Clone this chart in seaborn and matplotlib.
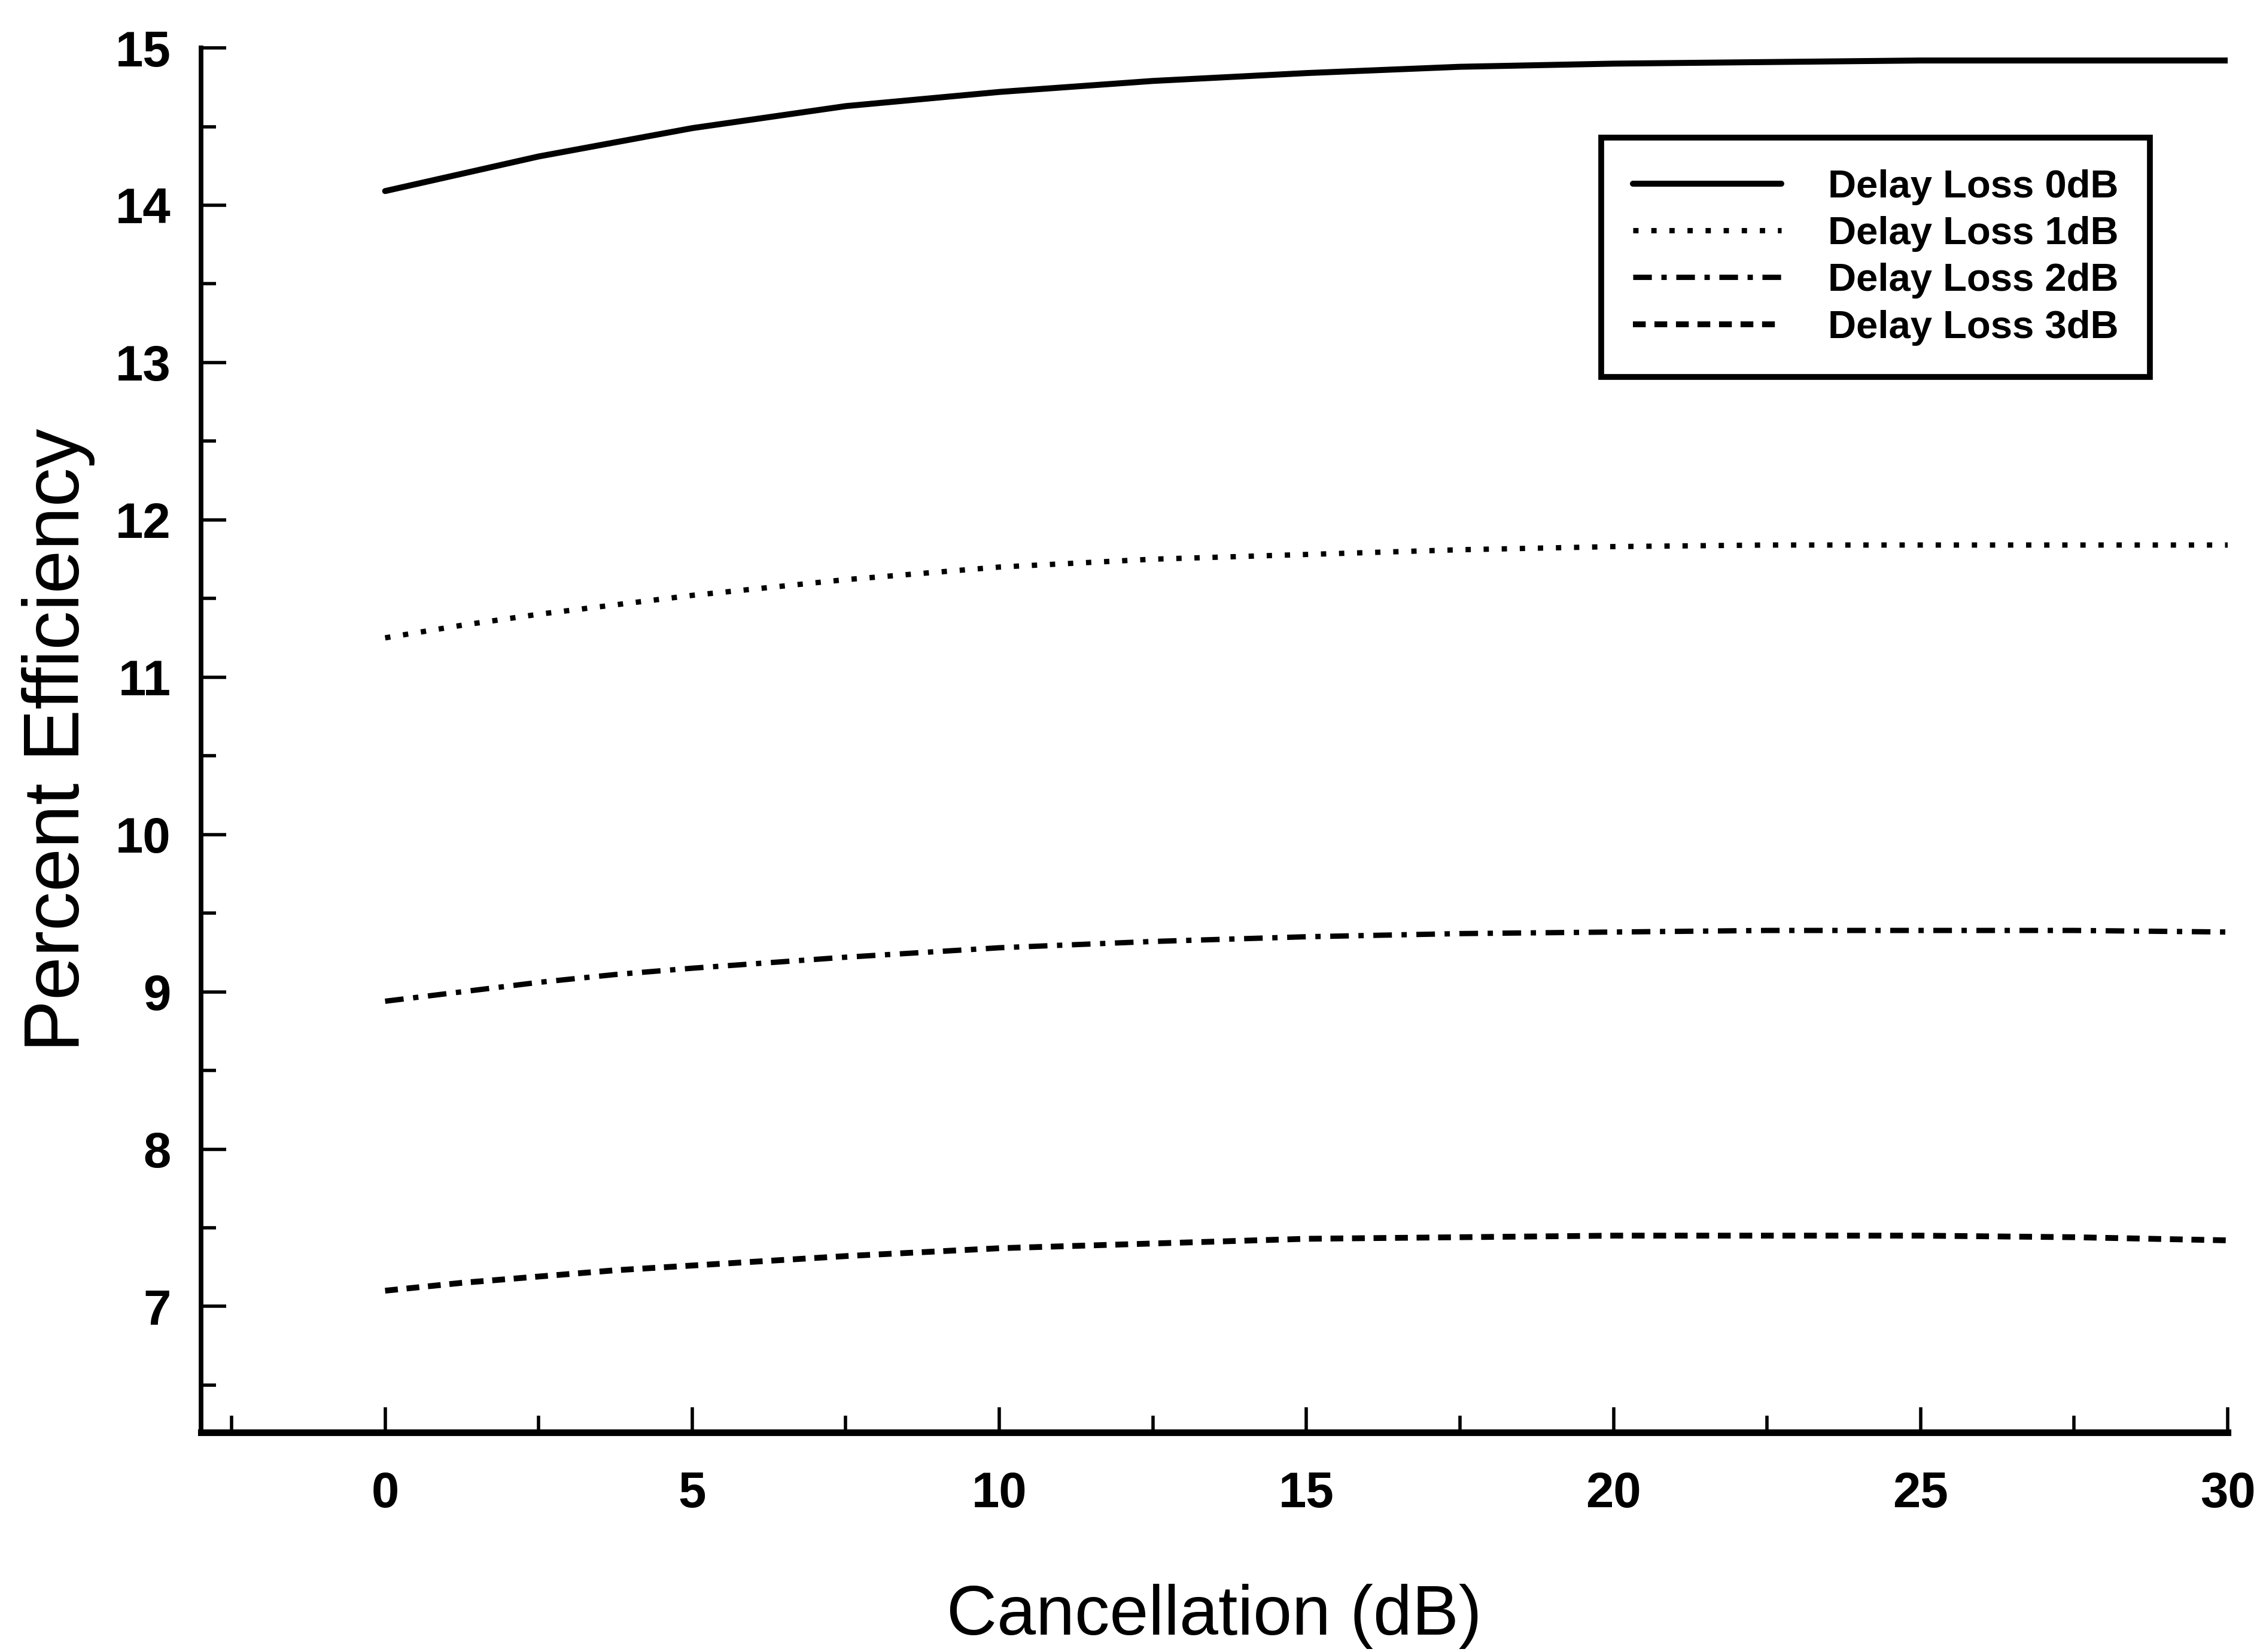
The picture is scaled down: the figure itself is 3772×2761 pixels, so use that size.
import pandas as pd
import matplotlib
matplotlib.use("Agg")
import matplotlib.pyplot as plt
from matplotlib.ticker import MultipleLocator
import seaborn as sns

# values
cancellation = [0, 1.25, 2.5, 3.75, 5, 7.5, 10, 12.5, 15, 17.5, 20, 22.5, 25, 27.5, 30]
loss_0db = [14.09, 14.20, 14.31, 14.40, 14.49, 14.63, 14.72, 14.79, 14.84, 14.88, 14.90, 14.91, 14.92, 14.92, 14.92]
loss_1db = [11.25, 11.33, 11.40, 11.46, 11.52, 11.62, 11.70, 11.75, 11.78, 11.81, 11.83, 11.84, 11.84, 11.84, 11.84]
loss_2db = [8.94, 9.00, 9.06, 9.11, 9.15, 9.22, 9.28, 9.32, 9.35, 9.37, 9.38, 9.39, 9.39, 9.39, 9.38]
loss_3db = [7.10, 7.15, 7.19, 7.23, 7.26, 7.32, 7.37, 7.40, 7.43, 7.44, 7.45, 7.45, 7.45, 7.44, 7.42]

labels = ["Delay Loss 0dB", "Delay Loss 1dB", "Delay Loss 2dB", "Delay Loss 3dB"]
x_ticks = [0, 5, 10, 15, 20, 25, 30]
y_ticks = [7, 8, 9, 10, 11, 12, 13, 14, 15]

sns.set_style("ticks")
plt.rcParams['font.family'] = ['Liberation Sans', 'DejaVu Sans']
plt.rcParams['text.color'] = 'black'
plt.rcParams['axes.labelcolor'] = 'black'
plt.rcParams['xtick.color'] = 'black'
plt.rcParams['ytick.color'] = 'black'

fig = plt.figure(figsize=(18.86, 13.805), dpi=200)
ax = fig.add_axes([0.089, 0.133, 0.898, 0.838])

styles = [
    dict(linestyle="-", linewidth=3.6),
    dict(linestyle=(0, (1, 2.4)), linewidth=3.2),
    dict(linestyle=(0, (3.5, 1.8, 1, 1.8)), linewidth=3.2),
    dict(linestyle=(0, (2.2, 1.5)), linewidth=3.5),
]
series = [loss_0db, loss_1db, loss_2db, loss_3db]
for vals, lab, st in zip(series, labels, styles):
    df = pd.DataFrame({"Cancellation": cancellation, "Efficiency": vals})
    sns.lineplot(data=df, x="Cancellation", y="Efficiency", ax=ax, color="black", label=lab, **st)

ax.set_xlim(-3, 30)
ax.set_ylim(6.2, 15)
ax.set_xticks(x_ticks)
ax.set_yticks(y_ticks)
ax.xaxis.set_minor_locator(MultipleLocator(2.5))
ax.yaxis.set_minor_locator(MultipleLocator(0.5))

ax.spines['top'].set_visible(False)
ax.spines['right'].set_visible(False)
ax.spines['left'].set_linewidth(2.8)
ax.spines['bottom'].set_linewidth(4.0)
ax.spines['left'].set_color("black")
ax.spines['bottom'].set_color("black")

ax.tick_params(axis='both', which='both', direction='in', color='black', width=2.0)
ax.tick_params(axis='x', which='major', length=15, pad=23, labelsize=30)
ax.tick_params(axis='x', which='minor', length=10)
ax.tick_params(axis='y', which='major', length=15, pad=18, labelsize=30)
ax.tick_params(axis='y', which='minor', length=9)
for t in ax.get_xticklabels() + ax.get_yticklabels():
    t.set_fontweight("bold")

ax.set_xlabel("Cancellation (dB)", fontsize=42, labelpad=40)
ax.set_ylabel("Percent Efficiency", fontsize=47, labelpad=12)

leg = ax.legend(loc="upper left", bbox_to_anchor=(0.691, 0.935), frameon=True, fancybox=False,
                prop={'size': 23.5, 'weight': 'bold'}, handlelength=3.8, handletextpad=1.2,
                labelspacing=0.28, borderpad=0.8, borderaxespad=0)
leg.get_frame().set_edgecolor("black")
leg.get_frame().set_linewidth(3.5)
leg.get_frame().set_alpha(1)

fig.savefig("out.png", dpi=200, facecolor="white")
